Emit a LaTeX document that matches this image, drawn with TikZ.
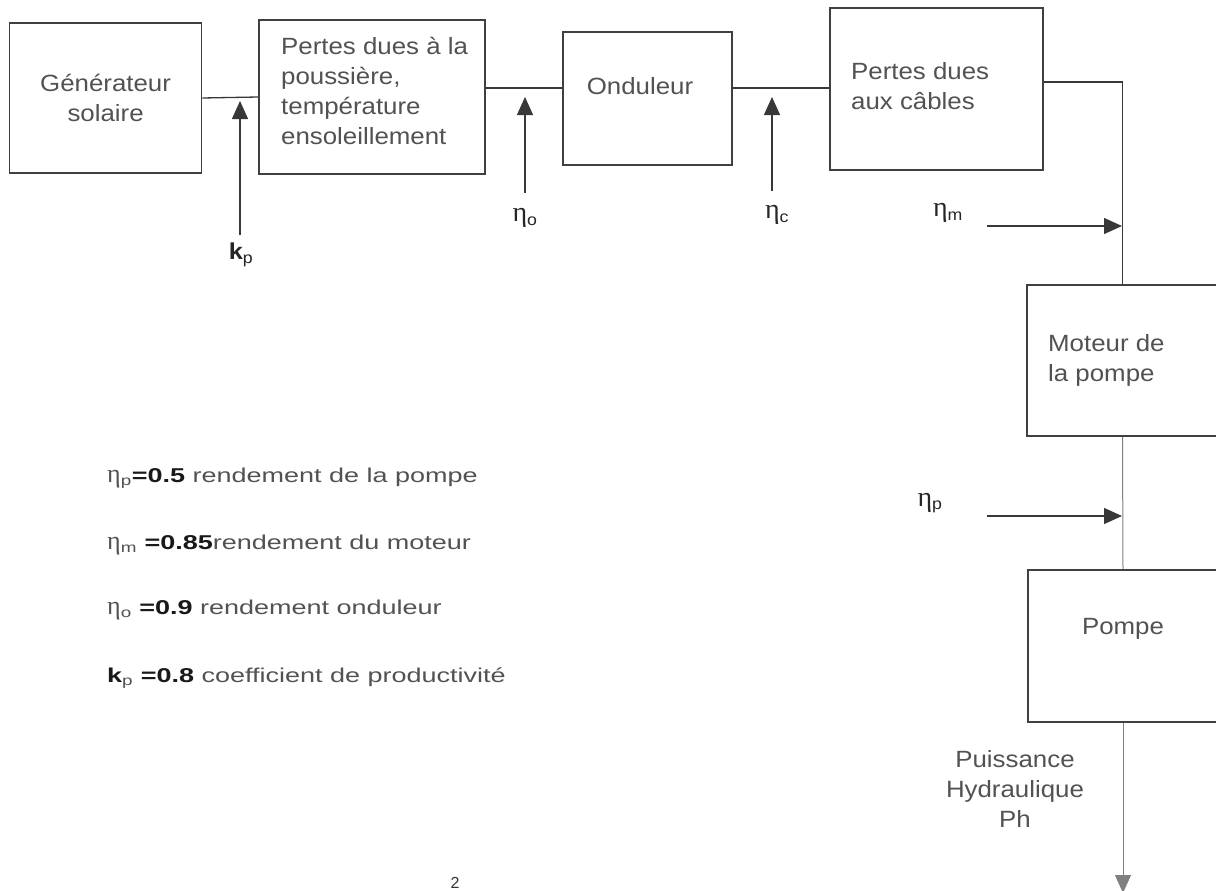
\documentclass[tikz,border=0pt]{standalone}
\usepackage{fontspec}
\setmainfont{Liberation Sans}
\newfontfamily\boxf[FakeStretch=1.1]{Liberation Sans}
\newfontfamily\legf[FakeStretch=1.35]{Liberation Sans}
\newfontfamily\grk{Liberation Serif}
\usetikzlibrary{arrows.meta}
\newcommand\etaS[1]{{\grk\fontsize{28}{30}\selectfont η}\textsubscript{#1}}
\newcommand\etaL[1]{{\grk\fontsize{26}{28}\selectfont η}\textsubscript{#1}}
\tikzset{
  blk/.style={draw=black!75, line width=1.6pt, rectangle, inner sep=0pt},
  txt/.style={text=black!68, font=\boxf\fontsize{23.5}{30}\selectfont, inner sep=0pt},
  conn/.style={draw=black!78, line width=1.3pt},
  thinline/.style={draw=black!50, line width=1pt},
  tip/.style={-{Triangle[length=18pt,width=16pt]}},
  lbl/.style={text=black!85, font=\boxf\fontsize{23}{26}\selectfont, inner sep=0pt},
  leg/.style={anchor=west, inner sep=0pt, text=black!68, font=\legf\fontsize{20}{24}\selectfont},
}
\begin{document}
\begin{tikzpicture}[x=1pt, y=-1pt]
\path[use as bounding box, fill=white] (0,0) rectangle (1216,891);

% boxes
\node[blk, txt, align=center, minimum width=192pt, minimum height=150pt] (gen) at (105.6,98) {Générateur\\solaire};
\node[blk, minimum width=226pt, minimum height=154pt] (pertes) at (372,97) {};
\node[blk, minimum width=169pt, minimum height=133pt] (ond) at (647.5,98.5) {};
\node[blk, minimum width=213pt, minimum height=162pt] (cab) at (936.5,89) {};
\node[blk, minimum width=191pt, minimum height=151pt] (mot) at (1122.5,360.5) {};
\node[blk, minimum width=190pt, minimum height=152pt] (pom) at (1123,646) {};

% box texts
\node[txt, anchor=west, align=left] (pertesT) at (281,91) {Pertes dues à la\\poussière,\\température\\ensoleillement};
\node[txt] (ondT) at (640,86) {Onduleur};
\node[txt, anchor=west, align=left] (cabT) at (851,86) {Pertes dues\\aux câbles};
\node[txt, anchor=west, align=left] (motT) at (1048,360) {Moteur de\\la pompe};
\node[txt] (pomT) at (1123,629) {Pompe};
\node[txt, align=center] (pui) at (1015,789) {Puissance\\Hydraulique\\Ph};

% main chain
\draw[conn] (gen.east) -- (pertes.west);
\draw[conn] ([yshift=9pt]pertes.east) -- ([yshift=10.5pt]ond.west);
\draw[conn] ([yshift=10.5pt]ond.east) -- ([yshift=1pt]cab.west);
\draw[conn] ([yshift=7pt]cab.east) -| (mot.north);
\draw[thinline] (mot.south) -- (pom.north);
\coordinate (out) at (1123,893);
\draw[thinline, tip] (pom.south) -- (out);

% efficiency inputs
\coordinate (kpS) at (240,235); \coordinate (kpT) at (240,101);
\draw[conn, tip] (kpS) -- (kpT);
\node[lbl] (kp) at (241,255) {\textbf{k}\textsubscript{p}};

\coordinate (eoS) at (525,193); \coordinate (eoT) at (525,97);
\draw[conn, tip] (eoS) -- (eoT);
\node[lbl] (eo) at (525,218) {\etaS{o}};

\coordinate (ecS) at (772,191); \coordinate (ecT) at (772,97);
\draw[conn, tip] (ecS) -- (ecT);
\node[lbl] (ec) at (777,215) {\etaS{c}};

\coordinate (emS) at (987,226); \coordinate (emT) at (1122,226);
\draw[conn, tip] (emS) -- (emT);
\node[lbl] (em) at (948,213) {\etaS{m}};

\coordinate (epS) at (987,516); \coordinate (epT) at (1122,516);
\draw[conn, tip] (epS) -- (epT);
\node[lbl] (ep) at (930,503) {\etaS{p}};

% legend
\node[leg] (l1) at (107,478) {\etaL{p}\textcolor{black!90}{\textbf{=0.5}} rendement de la pompe};
\node[leg] (l2) at (107,545) {\etaL{m} \textcolor{black!90}{\textbf{=0.85}}rendement du moteur};
\node[leg] (l3) at (107,610) {\etaL{o} \textcolor{black!90}{\textbf{=0.9}} rendement onduleur};
\node[leg] (l4) at (107,678) {\textcolor{black!90}{\textbf{k}}\textsubscript{p} \textcolor{black!90}{\textbf{=0.8}} coefficient de productivité};

\node[anchor=south, inner sep=0pt, text=black!80, font=\fontsize{16}{18}\selectfont] (two) at (455,889) {2};
\end{tikzpicture}
\end{document}
